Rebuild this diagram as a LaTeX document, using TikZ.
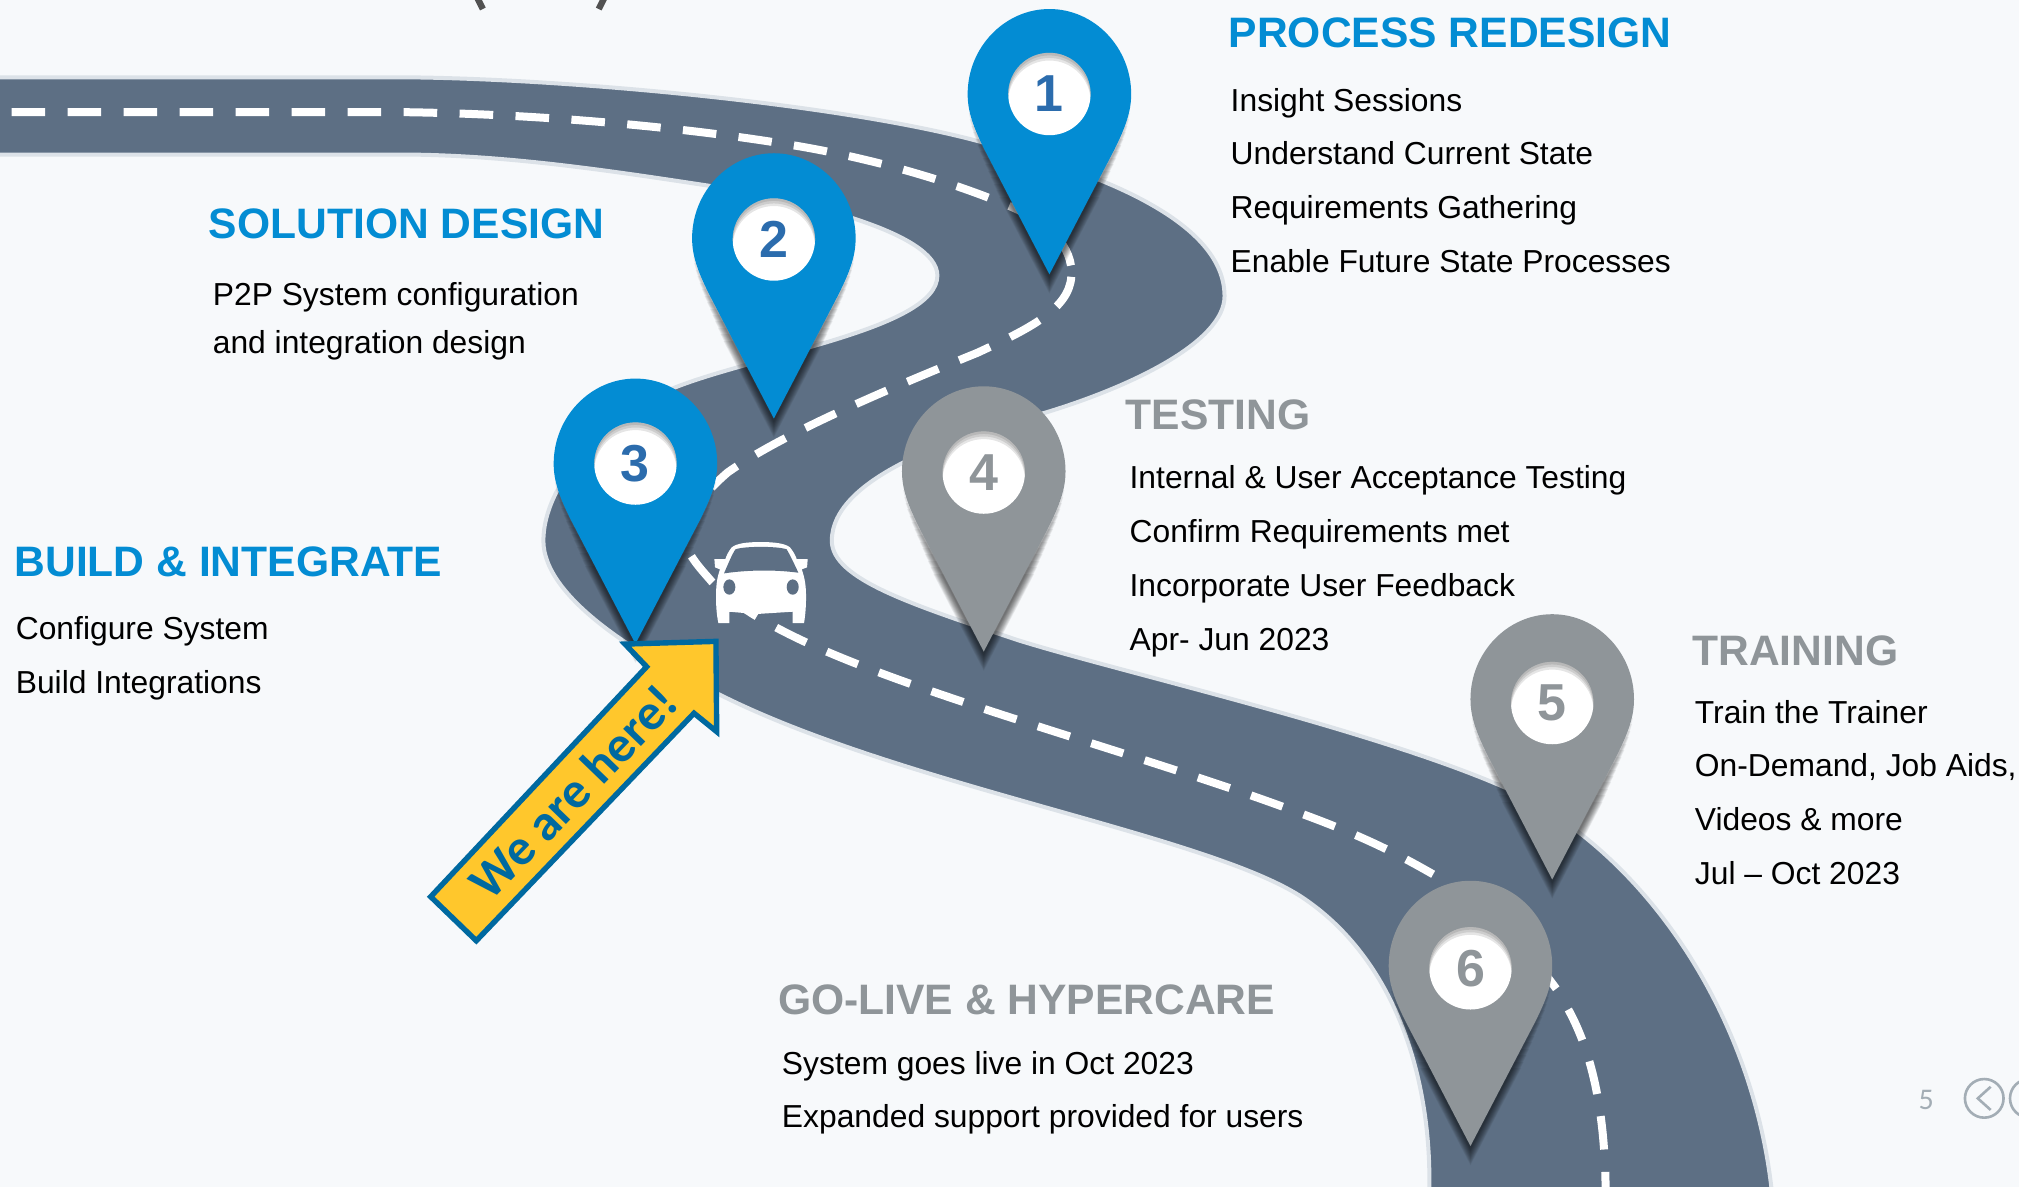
\documentclass[tikz,border=0pt]{standalone}
\usepackage{fontspec}
\setmainfont{Liberation Sans}
\newfontfamily\arrowfont{Carlito}
\definecolor{pagebg}{HTML}{F7F9FB}
\definecolor{roadfill}{HTML}{5D6F84}
\definecolor{roadedge}{HTML}{DCE2E8}
\definecolor{pinblue}{HTML}{038CD3}
\definecolor{numblue}{HTML}{2B6CAD}
\definecolor{pingray}{HTML}{8F9599}
\definecolor{arrowblue}{HTML}{0069A0}
\definecolor{arrowyellow}{HTML}{FFC72C}
\definecolor{navgray}{HTML}{A3ADB5}
\tikzset{
  headblue/.style={anchor=base west,inner sep=0pt,text=pinblue,font=\fontsize{21.3}{26}\selectfont\bfseries},
  headgray/.style={anchor=base west,inner sep=0pt,text=pingray,font=\fontsize{21.3}{26}\selectfont\bfseries},
  bodytext/.style={anchor=base west,inner sep=0pt,text=black,font=\fontsize{15.9}{19}\selectfont},
  pinnumber/.style={inner sep=0pt,font=\fontsize{26}{30}\selectfont\bfseries},
  navline/.style={draw=navgray,line width=1.3pt},
  roadline/.style={white,line width=4pt,dash pattern=on 16.8pt off 11.2pt}
}
\def\pinpath{(0,206) -- (-50,110) .. controls (-59,92) and (-63.5,80) .. (-63.5,66) .. controls (-63.5,30) and (-35,0) .. (0,0) .. controls (35,0) and (63.5,30) .. (63.5,66) .. controls (63.5,80) and (59,92) .. (50,110) -- cycle}
\newcommand\pinmark[5]{%
  \begin{scope}[shift={(#1,#2)}]
    \foreach \k in {1,...,14}{
      \pgfmathsetmacro\shw{\k*0.55}
      \pgfmathsetmacro\shs{76+\k*5}
      \begin{scope}
        \clip (-90,\shs) rectangle (90,235);
        \draw[black,opacity=.05,line width=\shw pt,shift={(0,2)}] \pinpath;
      \end{scope}
    }
    \fill[#3] \pinpath;
    \fill[white] (0,#5) circle [radius=32];
    \begin{scope}
      \clip (0,#5) circle [radius=32];
      \foreach \d in {2,4,6}{
        \fill[black,opacity=.10,even odd rule] (-40,#5-40) rectangle (40,#5+40) (0,#5+\d) circle [radius=32];
      }
    \end{scope}
    \node[pinnumber,text=#4] (pin#1) at (0,#5) {\pinlabel};
  \end{scope}%
}
\begin{document}
\begin{tikzpicture}[x=0.6438pt,y=-0.6438pt]
\useasboundingbox (0,0) rectangle (1568,921.8);
\clip (0,0) rectangle (1568,921.8);
\fill[pagebg] (0,0) rectangle (1568,921.8);
% marks at the top
\draw[line width=3.2pt,color=black!68] (371,-1) -- (375,7);
\draw[line width=3.2pt,color=black!68] (469,-1) -- (465,7);
% road
\draw[fill=roadfill,draw=roadedge,line width=2pt]
 (-10,60) -- (305,60)
 .. controls (430,60) and (650,80) .. (761,110)
 .. controls (830,128) and (951,165) .. (951,230)
 .. controls (951,265) and (880,300) .. (810,321)
 .. controls (745,338) and (646,370) .. (646,420)
 .. controls (646,450) and (710,470) .. (790,497)
 .. controls (870,522) and (1060,565) .. (1165,610)
 .. controls (1270,655) and (1360,780) .. (1376,925)
 -- (1376,960) -- (1110,960) -- (1110,925)
 .. controls (1112,840) and (1085,745) .. (1010,696)
 .. controls (935,648) and (700,610) .. (560,540)
 .. controls (500,512) and (422,465) .. (422,420)
 .. controls (422,375) and (470,325) .. (524,301)
 .. controls (590,275) and (728,255) .. (728,214)
 .. controls (728,180) and (620,155) .. (549,144)
 .. controls (470,132) and (390,120) .. (310,120)
 -- (-10,120) -- cycle;
% centre line
\draw[roadline] (9,87) -- (305,87)
 .. controls (410,88) and (530,98) .. (623,114)
 .. controls (680,124) and (735,140) .. (779,158)
 .. controls (815,172) and (834,192) .. (832,215);
\draw[roadline] (832,215)
 .. controls (830,240) and (800,255) .. (759,274)
 .. controls (700,298) and (610,335) .. (565,367)
 .. controls (550,380) and (540,392) .. (535,405);
\draw[roadline] (537,432) .. controls (542,440) and (548,446) .. (553,452)
 .. controls (570,470) and (600,488) .. (642,506)
 .. controls (740,548) and (900,590) .. (1011,632)
 .. controls (1060,650) and (1085,663) .. (1113,679);
\draw[roadline] (1193,747) -- (1211,771);
\draw[roadline] (1218,784) .. controls (1235,815) and (1247,860) .. (1247,930);
% car
\begin{scope}[shift={(310.65,349.5)},scale=0.2589]
  \fill[white] (1082,276) .. controls (1040,276) and (1010,280) .. (995,292) .. controls (985,305) and (980,315) .. (976,327) -- (943,327) -- (945,352) -- (960,358) .. controls (950,385) and (948,410) .. (948,440) .. controls (948,470) and (950,495) .. (955,519) -- (988,519) -- (988,485) -- (1045,490) -- (1058,503) -- (1068,492) -- (1178,485) -- (1178,519) -- (1212,519) .. controls (1216,495) and (1218,470) .. (1218,440) .. controls (1218,410) and (1215,385) .. (1205,358) -- (1221,352) -- (1223,327) -- (1190,327) .. controls (1186,315) and (1180,305) .. (1170,292) .. controls (1155,280) and (1124,276) .. (1082,276) -- cycle;
  \fill[roadfill] (972,370) .. controls (985,340) and (995,315) .. (1006,298) .. controls (1030,288) and (1135,288) .. (1160,298) .. controls (1170,315) and (1182,340) .. (1195,368) .. controls (1120,358) and (1040,360) .. (972,370) -- cycle;
  \fill[roadfill] (988,411) ellipse [x radius=18,y radius=23];
  \fill[roadfill] (1178,411) ellipse [x radius=18,y radius=23];
\end{scope}
% pins
\def\pinlabel{1}\pinmark{815}{7}{pinblue}{numblue}{66}
\def\pinlabel{2}\pinmark{601}{119}{pinblue}{numblue}{67}
\def\pinlabel{3}\pinmark{493.5}{294}{pinblue}{numblue}{66}
\def\pinlabel{4}\pinmark{764}{300}{pingray}{pingray}{67}
\def\pinlabel{5}\pinmark{1205.5}{477}{pingray}{pingray}{69}
\def\pinlabel{6}\pinmark{1142}{684}{pingray}{pingray}{68}
% arrow
\draw[fill=arrowyellow,draw=arrowblue,line width=2.7pt,miter limit=10]
 (334.5,696.4) -- (369.9,730.6) -- (539,553.9) -- (556.6,568.2) -- (556,498.1) -- (485.4,500.2) -- (502.2,517.8) -- cycle;
\node[inner sep=0pt,rotate=46,text=arrowblue,font=\arrowfont\bfseries\fontsize{25.5}{30}\selectfont] (arrowtext) at (445,615) {We are here!};
% texts
\node[headblue] (h1) at (954,36.5) {PROCESS REDESIGN};
\node[bodytext] (t11) at (955.5,86.5) {Insight Sessions};
\node[bodytext] (t12) at (955.5,127.5) {Understand Current State};
\node[bodytext] (t13) at (955.5,169.5) {Requirements Gathering};
\node[bodytext] (t14) at (955.5,211.5) {Enable Future State Processes};
\node[headblue] (h2) at (162,185.5) {SOLUTION DESIGN};
\node[bodytext] (t21) at (165,237.5) {P2P System configuration};
\node[bodytext] (t22) at (165,274.5) {and integration design};
\node[headblue] (h3) at (11,448) {BUILD \& INTEGRATE};
\node[bodytext] (t31) at (12,497) {Configure System};
\node[bodytext] (t32) at (12,538.5) {Build Integrations};
\node[headgray] (h4) at (874,333.5) {TESTING};
\node[bodytext] (t41) at (877,379.5) {Internal \& User Acceptance Testing};
\node[bodytext] (t42) at (877,421.5) {Confirm Requirements met};
\node[bodytext] (t43) at (877,463.5) {Incorporate User Feedback};
\node[bodytext] (t44) at (877,505.5) {Apr- Jun 2023};
\node[headgray] (h5) at (1314,516.5) {TRAINING};
\node[bodytext] (t51) at (1316,562) {Train the Trainer};
\node[bodytext] (t52) at (1316,603) {On-Demand, Job Aids,};
\node[bodytext] (t53) at (1316,645) {Videos \& more};
\node[bodytext] (t54) at (1316,687) {Jul – Oct 2023};
\node[headgray] (h6) at (604,787.5) {GO-LIVE \& HYPERCARE};
\node[bodytext] (t61) at (607,834.5) {System goes live in Oct 2023};
\node[bodytext] (t62) at (607,876) {Expanded support provided for users};
% page number and navigation
\node[inner sep=0pt,text=navgray,font=\arrowfont\fontsize{15}{18}\selectfont] (pageno) at (1496,854) {5};
\draw[navline] (1541,853) circle [radius=15];
\draw[navline] (1546,844) -- (1536,853) -- (1546,862);
\draw[navline] (1576,853) circle [radius=15];
\end{tikzpicture}
\end{document}
